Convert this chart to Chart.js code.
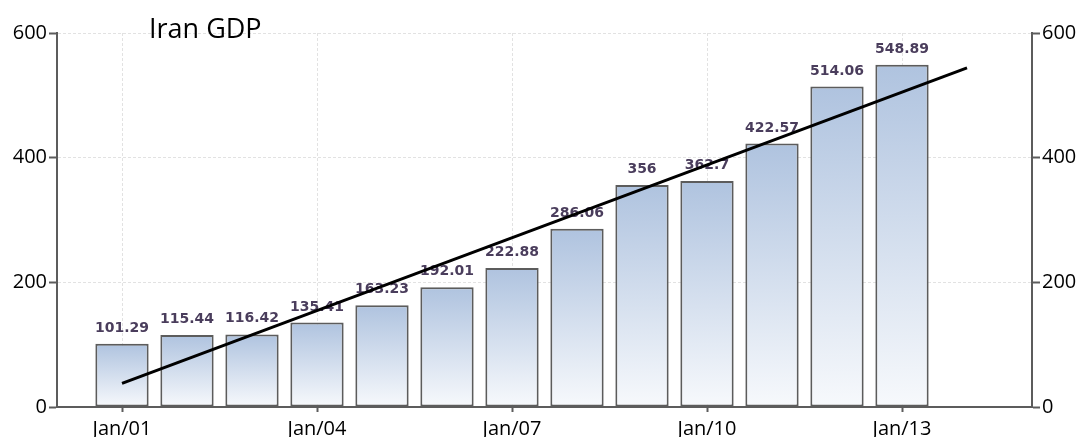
<!DOCTYPE html>
<html>
<head>
<meta charset="utf-8">
<script src="https://cdn.jsdelivr.net/npm/chart.js@4/dist/chart.umd.min.js"></script>
<style>
html,body{margin:0;padding:0;background:#fff;}
#wrap{width:1084px;height:437px;position:relative;}
</style>
</head>
<body>
<div id="wrap"><canvas id="c" width="1084" height="437"></canvas></div>
<script>
const chartTitle = "Iran GDP";
const years = [2001, 2002, 2003, 2004, 2005, 2006, 2007, 2008, 2009, 2010, 2011, 2012, 2013];
const gdpValues = [101.29, 115.44, 116.42, 135.41, 163.23, 192.01, 222.88, 286.06, 356, 362.7, 422.57, 514.06, 548.89];
const valueLabels = ["101.29", "115.44", "116.42", "135.41", "163.23", "192.01", "222.88", "286.06", "356", "362.7", "422.57", "514.06", "548.89"];
const trendYears = [2001, 2014];
const trendValues = [38, 544];
const xTickYears = [2001, 2004, 2007, 2010, 2013];
const yTicks = [0, 200, 400, 600];

const barData = years.map((yr, i) => ({x: yr, y: gdpValues[i]}));
const trendData = trendYears.map((yr, i) => ({x: yr, y: trendValues[i]}));

function barGradient(ctx) {
  const chart = ctx.chart;
  const ys = chart.scales.y;
  if (!ys || !ctx.raw || ys.top === undefined) return '#c4d3e8';
  const top = ys.getPixelForValue(ctx.raw.y);
  const bot = ys.getPixelForValue(0);
  if (!isFinite(top) || !isFinite(bot) || top === bot) return '#c4d3e8';
  const g = chart.ctx.createLinearGradient(0, top, 0, bot);
  g.addColorStop(0, '#afc3df');
  g.addColorStop(1, '#f7f9fc');
  return g;
}

const labelPlugin = {
  id: 'valueLabels',
  afterDatasetDraw(chart, args) {
    if (args.index !== 0) return;
    const ctx = chart.ctx;
    ctx.save();
    ctx.font = 'bold 14px "DejaVu Sans"';
    ctx.fillStyle = '#4a3d5c';
    ctx.textAlign = 'center';
    ctx.textBaseline = 'alphabetic';
    args.meta.data.forEach((el, i) => {
      ctx.fillText(valueLabels[i], el.x, el.y - 12);
    });
    ctx.restore();
  }
};

const titlePlugin = {
  id: 'titleText',
  afterDraw(chart) {
    const ctx = chart.ctx;
    ctx.save();
    ctx.font = '27px "Open Sans"';
    ctx.fillStyle = '#000';
    ctx.textAlign = 'left';
    ctx.textBaseline = 'alphabetic';
    ctx.fillText(chartTitle, 149, 38);
    ctx.restore();
  }
};

const tickFont = {family: '"Open Sans"', size: 20};

new Chart(document.getElementById('c'), {
  type: 'bar',
  data: {
    datasets: [
      {
        type: 'bar',
        data: barData,
        backgroundColor: barGradient,
        borderColor: '#5c5c5c',
        borderWidth: 2,
        borderSkipped: false,
        categoryPercentage: 1,
        barPercentage: 0.82,
        order: 2,
        yAxisID: 'y'
      },
      {
        type: 'line',
        data: trendData,
        borderColor: '#000',
        borderWidth: 3,
        pointRadius: 0,
        fill: false,
        order: 1,
        yAxisID: 'y'
      }
    ]
  },
  options: {
    responsive: false,
    animation: false,
    events: [],
    layout: {padding: {top: 33, left: 0, right: 0, bottom: 0}},
    plugins: {legend: {display: false}, tooltip: {enabled: false}, title: {display: false}},
    scales: {
      x: {
        type: 'linear',
        offset: false,
        min: 2000,
        max: 2015,
        afterBuildTicks(scale) { scale.ticks = xTickYears.map(v => ({value: v})); },
        afterFit(scale) { scale.height = 30; },
        ticks: {
          font: tickFont, color: '#000', padding: 5, maxRotation: 0, autoSkip: false,
          callback: v => 'Jan/' + String(v).slice(2)
        },
        grid: {offset: false, color: '#e2e2e2', tickColor: '#5c5c5c', tickLength: 5, lineWidth: 1, tickWidth: 2},
        border: {color: '#5c5c5c', width: 2, dash: [3, 2]}
      },
      y: {
        position: 'left',
        min: 0, max: 600,
        afterBuildTicks(scale) { scale.ticks = yTicks.map(v => ({value: v})); },
        afterFit(scale) { scale.width = 57; },
        ticks: {font: tickFont, color: '#000', padding: 2},
        grid: {color: '#e2e2e2', tickColor: '#5c5c5c', tickLength: 8, tickWidth: 2},
        border: {color: '#5c5c5c', width: 2, dash: [3, 2]}
      },
      y2: {
        position: 'right',
        min: 0, max: 600,
        afterBuildTicks(scale) { scale.ticks = yTicks.map(v => ({value: v})); },
        afterFit(scale) { scale.width = 52; },
        ticks: {font: tickFont, color: '#000', padding: 2},
        grid: {drawOnChartArea: false, color: '#5c5c5c', tickLength: 8, tickWidth: 2},
        border: {color: '#5c5c5c', width: 2}
      }
    }
  },
  plugins: [labelPlugin, titlePlugin]
});
</script>
</body>
</html>
